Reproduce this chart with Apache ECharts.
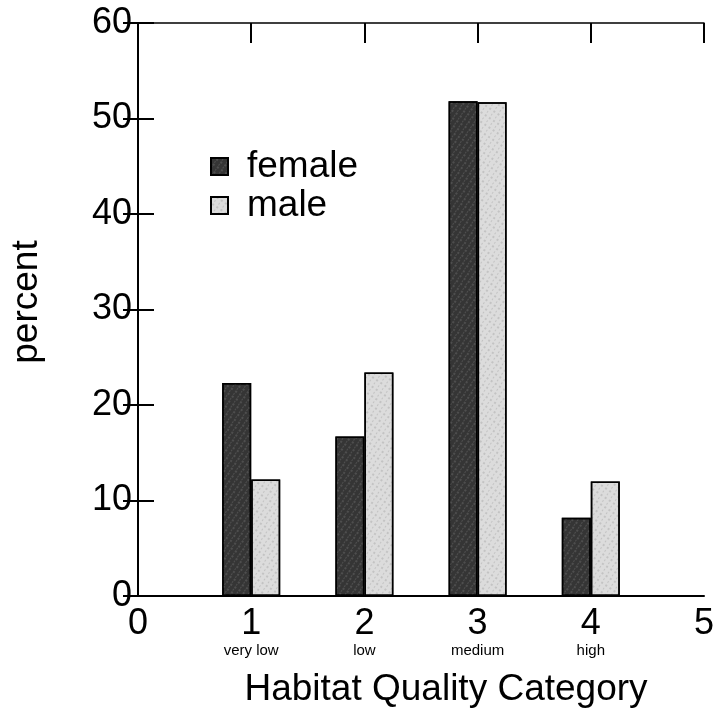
<!DOCTYPE html>
<html>
<head>
<meta charset="utf-8">
<script src="https://cdn.jsdelivr.net/npm/echarts@6/dist/echarts.min.js"></script>
<style>
html,body{margin:0;padding:0;background:#fff;}
#chart{width:717px;height:713px;}
</style>
</head>
<body>
<div id="chart"></div>
<script>
var categories = [1, 2, 3, 4];
var categoryNames = ['very low', 'low', 'medium', 'high'];
var femaleValues = [22.3, 16.7, 51.8, 8.2];
var maleValues = [12.2, 23.4, 51.7, 12.0];
var yTicks = [0, 10, 20, 30, 40, 50, 60];
var xTicks = [0, 1, 2, 3, 4, 5];

var FONT = 'Liberation Sans, Arial, sans-serif';
var chart = echarts.init(document.getElementById('chart'), null, {renderer: 'canvas'});

function pairs(vals) { return categories.map(function (c, i) { return [c, vals[i]]; }); }

var axisLineStyle = {color: '#000', width: 2};
var femaleStyle = {
  color: '#353535', borderColor: '#000', borderWidth: 1.5,
  decal: {symbol: 'rect', symbolSize: 0.5, color: 'rgba(255,255,255,0.5)', dashArrayX: [[2, 3], [1, 4]], dashArrayY: [2, 1], rotation: 0.6}
};
var maleStyle = {
  color: '#dcdcdc', borderColor: '#000', borderWidth: 1.5,
  decal: {symbol: 'rect', symbolSize: 0.5, color: 'rgba(0,0,0,0.45)', dashArrayX: [[2, 3], [1, 4]], dashArrayY: [2, 2], rotation: 0.6}
};

chart.setOption({
  animation: false,
  backgroundColor: '#fff',
  grid: {left: 138, right: 9, top: 23, bottom: 117, containLabel: false},
  legend: {
    orient: 'vertical',
    left: 205, top: 143,
    itemWidth: 17, itemHeight: 17, itemGap: 2,
    textStyle: {fontFamily: FONT, fontSize: 37, color: '#000', padding: [0, 0, 0, 14]},
    data: [
      {name: 'female', icon: 'rect'},
      {name: 'male', icon: 'rect'}
    ]
  },
  xAxis: [
    {
      type: 'value', min: xTicks[0], max: xTicks[xTicks.length - 1], interval: 1, position: 'bottom',
      axisLine: {show: true, lineStyle: axisLineStyle},
      axisTick: {show: false},
      splitLine: {show: false},
      axisLabel: {fontFamily: FONT, fontSize: 36, color: '#000', margin: 10, showMinLabel: true, showMaxLabel: true}
    },
    {
      type: 'value', min: xTicks[0], max: xTicks[xTicks.length - 1], interval: 1, position: 'bottom', offset: 0,
      axisLine: {show: false}, axisTick: {show: false}, splitLine: {show: false},
      axisLabel: {
        fontFamily: FONT, fontSize: 15, color: '#000', margin: 47,
        formatter: function (v) { var i = categories.indexOf(v); return i >= 0 ? categoryNames[i] : ''; }
      }
    },
    {
      type: 'value', min: xTicks[0], max: xTicks[xTicks.length - 1], interval: 1, position: 'top',
      axisLine: {show: true, lineStyle: {color: '#000', width: 1.5}},
      axisTick: {show: true, inside: true, length: 20, lineStyle: {color: '#000', width: 2}},
      axisLabel: {show: false}, splitLine: {show: false}
    }
  ],
  yAxis: [
    {
      type: 'value', min: yTicks[0], max: yTicks[yTicks.length - 1], interval: 10, position: 'left',
      axisLine: {show: true, lineStyle: axisLineStyle},
      axisTick: {show: true, inside: true, length: 16, lineStyle: {color: '#000', width: 2}},
      splitLine: {show: false},
      axisLabel: {fontFamily: FONT, fontSize: 36, color: '#000', margin: 6}
    },
    {
      type: 'value', min: yTicks[0], max: yTicks[yTicks.length - 1], interval: 10, position: 'right',
      axisLine: {show: true, lineStyle: {color: '#000', width: 1.5}},
      axisTick: {show: true, inside: true, length: 15, lineStyle: {color: '#000', width: 2}},
      splitLine: {show: false},
      axisLabel: {show: false}
    }
  ],
  series: [
    {
      name: 'female', type: 'bar', xAxisIndex: 0, yAxisIndex: 0,
      barWidth: 29, barGap: '0%',
      itemStyle: femaleStyle,
      data: pairs(femaleValues)
    },
    {
      name: 'male', type: 'bar', xAxisIndex: 0, yAxisIndex: 0,
      barWidth: 29, barGap: '0%',
      itemStyle: maleStyle,
      data: pairs(maleValues)
    }
  ],
  graphic: [
    {
      type: 'text', x: 446, y: 690,
      style: {text: 'Habitat Quality Category', font: '37px ' + FONT, fill: '#000', textAlign: 'center', textVerticalAlign: 'middle'}
    },
    {
      type: 'text', x: 27, y: 302, rotation: Math.PI / 2,
      style: {text: 'percent', font: '37px ' + FONT, fill: '#000', textAlign: 'center', textVerticalAlign: 'middle'}
    }
  ]
});
</script>
</body>
</html>
